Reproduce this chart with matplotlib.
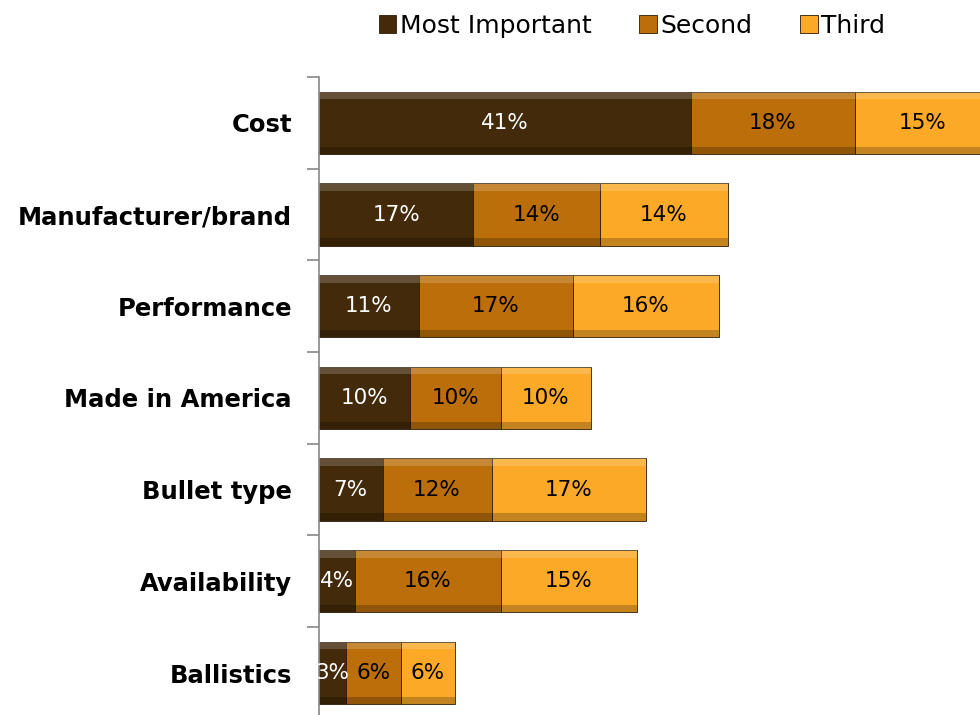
import matplotlib.pyplot as plt
from matplotlib.patches import Rectangle
import numpy as np

plt.rcParams['font.family'] = ['DejaVu Sans']

categories = ["Cost", "Manufacturer/brand", "Performance", "Made in America",
              "Bullet type", "Availability", "Ballistics"]
series_names = ["Most Important", "Second", "Third"]
most_important = [41, 17, 11, 10, 7, 4, 3]
second = [18, 14, 17, 10, 12, 16, 6]
third = [15, 14, 16, 10, 17, 15, 6]

colors = ["#432a0a", "#bb6e0a", "#fba927"]
text_colors = ["white", "black", "black"]

fig = plt.figure(figsize=(9.8, 7.15), dpi=100)
ax = fig.add_axes([319 / 980, 0, 1 - 319 / 980, 1 - 77 / 715])

y = np.arange(len(categories))
left = np.zeros(len(categories))
for vals, name, col, tcol in zip([most_important, second, third], series_names, colors, text_colors):
    bars = ax.barh(y, vals, left=left, height=0.68, color=col, label=name,
                   edgecolor="#2a1a05", linewidth=0.6)
    for b, v in zip(bars, vals):
        # bevel: light band on top, dark band on bottom
        bx, by, bw, bh = b.get_x(), b.get_y(), b.get_width(), b.get_height()
        ax.add_patch(Rectangle((bx, by), bw, bh * 0.12, color="white", alpha=0.18, lw=0))
        ax.add_patch(Rectangle((bx, by + bh * 0.88), bw, bh * 0.12, color="black", alpha=0.22, lw=0))
        ax.text(bx + bw / 2, by + bh / 2, f"{v}%", ha="center", va="center",
                color=tcol, fontsize=15.5)
    left += np.array(vals)

ax.set_xlim(0, 72.8)
ax.set_ylim(6.458, -0.5)
ax.set_yticks(y)
ax.set_yticklabels(categories, fontsize=17.5, fontweight="bold")
ax.set_yticks(np.arange(-0.5, 6.5, 1), minor=True)
ax.tick_params(axis="y", which="major", length=0, pad=19.5)
ax.tick_params(axis="y", which="minor", length=9, color="#888888", width=1.2)
ax.set_xticks([])
for s in ["top", "right", "bottom"]:
    ax.spines[s].set_visible(False)
ax.spines["left"].set_color("#888888")
ax.spines["left"].set_linewidth(1.2)

handles, labels = ax.get_legend_handles_labels()
fig.legend(handles, labels, loc="upper center", bbox_to_anchor=(632 / 980, 1.012),
           ncol=3, frameon=False, fontsize=18, handlelength=0.7, handleheight=0.7,
           handletextpad=0.15, columnspacing=1.9)

fig.savefig("out.png", dpi=100)
